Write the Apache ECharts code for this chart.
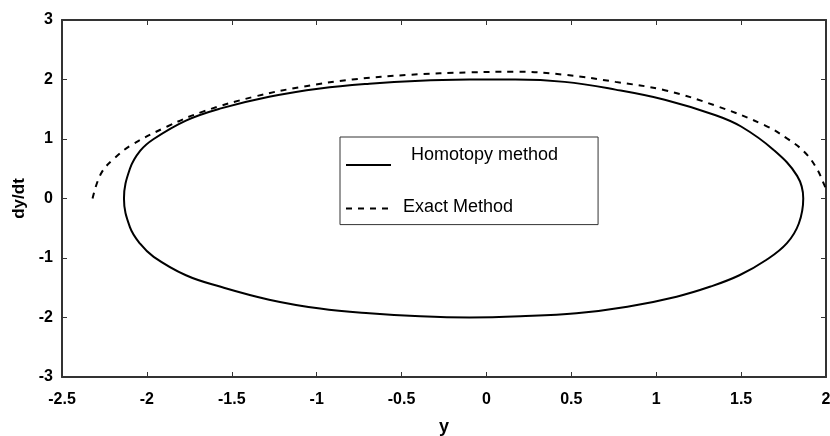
<!DOCTYPE html>
<html>
<head>
<meta charset="utf-8">
<script src="https://cdn.jsdelivr.net/npm/echarts@6/dist/echarts.min.js"></script>
<style>
  html, body { margin: 0; padding: 0; background: #fff; }
  #chart { width: 830px; height: 436px; }
</style>
</head>
<body>
<div id="chart"></div>
<script>
// Datos
const homotopyY = [-0.10, 0.17, 0.46, 0.76, 1.05, 1.35, 1.50, 1.69, 1.83, 1.866, 1.84, 1.77, 1.65, 1.49, 1.32, 1.12, 0.83, 0.53, 0.20, -0.10, -0.39, -0.69, -0.98, -1.28, -1.57, -1.77, -1.96, -2.04, -2.10, -2.135, -2.10, -2.04, -1.96, -1.77, -1.57, -1.28, -0.98, -0.69, -0.39, -0.10];
const homotopyDy = [2.00, 2.00, 1.96, 1.83, 1.66, 1.40, 1.21, 0.82, 0.38, 0.00, -0.42, -0.75, -1.03, -1.29, -1.48, -1.65, -1.82, -1.93, -1.98, -2.00, -1.98, -1.93, -1.85, -1.70, -1.48, -1.29, -0.98, -0.76, -0.48, 0.00, 0.50, 0.80, 1.00, 1.31, 1.51, 1.71, 1.85, 1.93, 1.98, 2.00];

const exactY = [-2.32, -2.27, -2.19, -2.09, -1.88, -1.67, -1.37, -1.08, -0.79, -0.45, -0.10, 0.17, 0.46, 0.76, 1.05, 1.35, 1.64, 1.77, 1.87, 1.94, 1.99, 2.00];
const exactDy = [0.00, 0.42, 0.68, 0.90, 1.21, 1.46, 1.71, 1.88, 2.00, 2.08, 2.12, 2.13, 2.08, 1.96, 1.82, 1.56, 1.23, 1.01, 0.79, 0.53, 0.23, 0.15];

const seriesNames = ["Homotopy method", "Exact Method"];

const font = "'Liberation Sans', Arial, sans-serif";

const zip = (a, b) => a.map((v, i) => [v, b[i]]);

const xBase = { type: "value", min: -2.5, max: 2, interval: 0.5 };
const yBase = { type: "value", min: -3, max: 3, interval: 1 };
const axisLine = { show: true, onZero: false, lineStyle: { color: "#333", width: 2 } };
const tickIn = { show: true, inside: true, length: 5, lineStyle: { color: "#333", width: 1 } };

let options = {
  animation: false,
  backgroundColor: "#fff",
  grid: { left: 62, right: 4, top: 20, bottom: 59, outerBoundsMode: "none", containLabel: false },
  legend: {
    orient: "vertical",
    left: 340,
    top: 137,
    padding: [9, 40, 9, 5],
    itemGap: 27,
    itemWidth: 45,
    itemHeight: 14,
    borderColor: "#333",
    borderWidth: 1,
    backgroundColor: "#fff",
    selectedMode: false,
    itemStyle: { opacity: 0, borderWidth: 0 },
    textStyle: { fontFamily: font, fontSize: 18, color: "#000" },
    formatter: function (name) {
      return name === seriesNames[0] ? "{up|" + name + "}" : "{dn|" + name + "}";
    },
    data: [
      {
        name: seriesNames[0],
        textStyle: {
          rich: { up: { fontFamily: font, fontSize: 18, color: "#000", padding: [0, 0, 20, 15] } }
        }
      },
      {
        name: seriesNames[1],
        textStyle: {
          rich: { dn: { fontFamily: font, fontSize: 18, color: "#000", padding: [0, 0, 4, 7] } }
        }
      }
    ]
  },
  xAxis: [
    Object.assign({}, xBase, {
      position: "bottom",
      name: "y",
      nameLocation: "middle",
      nameGap: 41,
      nameTextStyle: { fontFamily: font, fontSize: 18, fontWeight: "bold", color: "#000" },
      axisLine: axisLine,
      axisTick: tickIn,
      splitLine: { show: false },
      axisLabel: { fontFamily: font, fontSize: 16, fontWeight: "bold", color: "#000", margin: 15 }
    }),
    Object.assign({}, xBase, {
      position: "top",
      axisLine: axisLine,
      axisTick: tickIn,
      splitLine: { show: false },
      axisLabel: { show: false }
    })
  ],
  yAxis: [
    Object.assign({}, yBase, {
      position: "left",
      name: "dy/dt",
      nameLocation: "middle",
      nameRotate: 90,
      nameGap: 27,
      nameTextStyle: { fontFamily: font, fontSize: 17, fontWeight: "bold", color: "#000" },
      axisLine: axisLine,
      axisTick: tickIn,
      splitLine: { show: false },
      axisLabel: { fontFamily: font, fontSize: 16, fontWeight: "bold", color: "#000", margin: 9 }
    }),
    Object.assign({}, yBase, {
      position: "right",
      axisLine: axisLine,
      axisTick: tickIn,
      splitLine: { show: false },
      axisLabel: { show: false }
    })
  ],
  series: [
    {
      name: seriesNames[0],
      type: "line",
      xAxisIndex: 0,
      yAxisIndex: 0,
      data: zip(homotopyY, homotopyDy),
      smooth: 0.4,
      symbol: "none",
      clip: true,
      lineStyle: { color: "#000", width: 2 },
      itemStyle: { color: "#000" }
    },
    {
      name: seriesNames[1],
      type: "line",
      xAxisIndex: 0,
      yAxisIndex: 0,
      data: zip(exactY, exactDy),
      smooth: 0.4,
      symbol: "none",
      clip: true,
      lineStyle: { color: "#000", width: 2, type: [6, 6] },
      itemStyle: { color: "#000" }
    }
  ]
};

let chart = echarts.init(document.getElementById("chart"));
chart.setOption(options);
</script>
</body>
</html>
